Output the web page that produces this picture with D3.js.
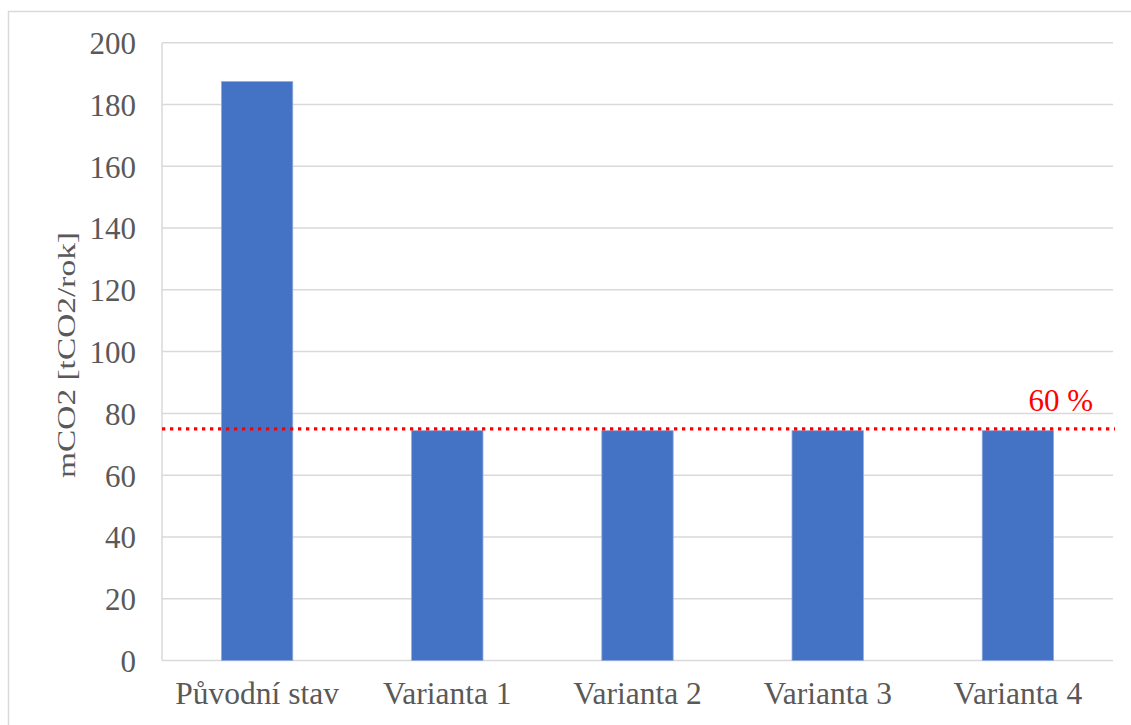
<!DOCTYPE html>
<html>
<head>
<meta charset="utf-8">
<script src="https://cdn.jsdelivr.net/npm/d3@7"></script>
<style>
  html, body { margin: 0; padding: 0; background: #fff; }
  svg { display: block; }
</style>
</head>
<body>
<svg id="chart" width="1131" height="725"></svg>
<script>
// Annual CO2 emissions per variant
const categories = ["Původní stav", "Varianta 1", "Varianta 2", "Varianta 3", "Varianta 4"];
const emissions = [187.4, 74.4, 74.4, 74.4, 74.4];
const yTicks = [0, 20, 40, 60, 80, 100, 120, 140, 160, 180, 200];
const targetValue = 75.0;      // 60 % reduction from the original state
const targetLabel = "60 %";
const yTitle = "mCO2 [tCO2/rok]";

const svg = d3.select("#chart");
const font = "'Liberation Serif', 'Times New Roman', serif";

// chart frame
svg.append("rect")
  .attr("x", 8.5).attr("y", 11.5)
  .attr("width", 1140).attr("height", 730)
  .attr("fill", "none").attr("stroke", "#d9d9d9").attr("stroke-width", 1.5);

const plot = { left: 162, right: 1113, top: 42.7, bottom: 660.5 };

const x = d3.scaleBand().domain(categories).range([plot.left, plot.right]).padding(0);
const y = d3.scaleLinear().domain([0, 200]).range([plot.bottom, plot.top]);
const barW = x.bandwidth() * 0.375;

// horizontal gridlines
svg.append("g").selectAll("line").data(yTicks).join("line")
  .attr("x1", plot.left).attr("x2", plot.right)
  .attr("y1", d => y(d)).attr("y2", d => y(d))
  .attr("stroke", "#d9d9d9").attr("stroke-width", 1.5);

// left axis line
svg.append("line")
  .attr("x1", plot.left).attr("x2", plot.left)
  .attr("y1", plot.top).attr("y2", plot.bottom)
  .attr("stroke", "#d9d9d9").attr("stroke-width", 1.5);

// bars
svg.append("g").selectAll("rect").data(categories).join("rect")
  .attr("x", (d) => x(d) + (x.bandwidth() - barW) / 2)
  .attr("width", barW)
  .attr("y", (d, i) => y(emissions[i]))
  .attr("height", (d, i) => y(0) - y(emissions[i]))
  .attr("fill", "#4472c4")
  .attr("stroke", "#8faadc").attr("stroke-width", 0.8);

// y axis tick labels
const yAxis = d3.axisLeft(y).tickValues(yTicks).tickSize(0).tickPadding(0);
const gy = svg.append("g").attr("transform", `translate(136,0)`).call(yAxis);
gy.select(".domain").remove();
gy.selectAll("text")
  .attr("font-family", font).attr("font-size", 31).attr("fill", "#595959")
  .attr("dy", "0.35em");

// x axis category labels
const xAxis = d3.axisBottom(x).tickSize(0).tickPadding(0);
const gx = svg.append("g").attr("transform", `translate(0,${plot.bottom})`).call(xAxis);
gx.select(".domain").remove();
gx.selectAll("text")
  .attr("font-family", font).attr("font-size", 31.5).attr("fill", "#595959")
  .attr("y", 43.5).attr("dy", 0);

// y axis title
svg.append("text")
  .attr("transform", `translate(75,355) rotate(-90)`)
  .attr("text-anchor", "middle")
  .attr("font-family", font).attr("font-size", 26).attr("fill", "#595959")
  .attr("textLength", 246).attr("lengthAdjust", "spacingAndGlyphs")
  .text(yTitle);

// target line
svg.append("line")
  .attr("x1", plot.left).attr("x2", plot.right + 2)
  .attr("y1", y(targetValue)).attr("y2", y(targetValue))
  .attr("stroke", "#ff0000").attr("stroke-width", 3.3)
  .attr("stroke-dasharray", "3.3,4.7");

svg.append("text")
  .attr("x", 1093).attr("y", y(targetValue) - 18)
  .attr("text-anchor", "end")
  .attr("font-family", font).attr("font-size", 31).attr("fill", "#ff0000")
  .text(targetLabel);
</script>
</body>
</html>
